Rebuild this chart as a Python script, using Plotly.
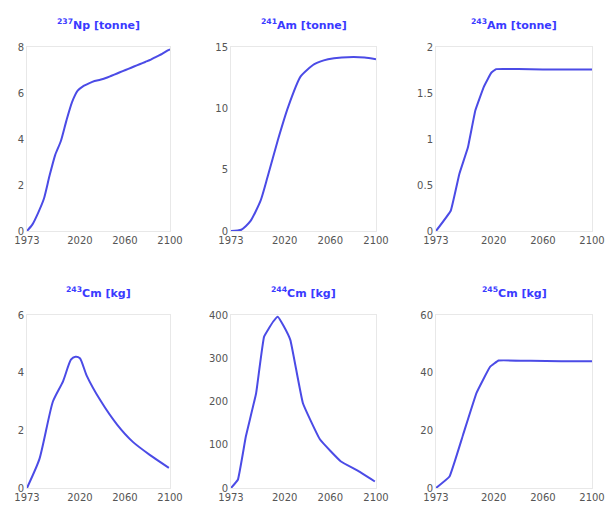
import plotly.graph_objects as go

# ---- data ----
np_years = [1973, 1978, 1983, 1988, 1993, 1998, 2003, 2008, 2013, 2018, 2023, 2028, 2033, 2038,
            2043, 2048, 2053, 2058, 2063, 2068, 2073, 2078, 2083, 2088, 2093, 2098, 2100]
np237 = [0, 0.3, 0.8, 1.4, 2.4, 3.3, 3.9, 4.8, 5.6, 6.1, 6.3, 6.42, 6.52, 6.58,
         6.65, 6.75, 6.85, 6.95, 7.05, 7.15, 7.25, 7.35, 7.45, 7.58, 7.7, 7.85, 7.9]

am241_years = [1973, 1982, 1990, 1999, 2005, 2014, 2023, 2034, 2046, 2058, 2070, 2090, 2100]
am241 = [0, 0.1, 0.8, 2.5, 4.4, 7.4, 10.1, 12.6, 13.6, 14.0, 14.15, 14.15, 14.0]

am243_years = [1973, 1985, 1992, 1999, 2005, 2012, 2018, 2022, 2040, 2060, 2080, 2100]
am243 = [0, 0.22, 0.62, 0.91, 1.31, 1.57, 1.72, 1.76, 1.76, 1.755, 1.755, 1.755]

cm243_years = [1973, 1984, 1996, 2005, 2012, 2016, 2020, 2026, 2038, 2053, 2067, 2082, 2099]
cm243 = [0, 1.0, 3.0, 3.7, 4.45, 4.55, 4.5, 3.9, 3.05, 2.2, 1.6, 1.15, 0.7]

cm244_years = [1973, 1979, 1986, 1995, 2002, 2010, 2014, 2019, 2025, 2036, 2051, 2069, 2084, 2099]
cm244 = [0, 19, 119, 219, 350, 385, 396, 375, 342, 196, 112, 62, 40, 15]

cm245_years = [1973, 1984, 1995, 2006, 2017, 2024, 2050, 2075, 2100]
cm245 = [0, 4, 18.4, 33, 42, 44.2, 44.1, 44, 44]

titles = ["<sup>237</sup>Np [tonne]", "<sup>241</sup>Am [tonne]", "<sup>243</sup>Am [tonne]",
          "<sup>243</sup>Cm [kg]", "<sup>244</sup>Cm [kg]", "<sup>245</sup>Cm [kg]"]
y_ranges = [[0, 8], [0, 15], [0, 2], [0, 6], [0, 400], [0, 60]]
y_ticks = [[0, 2, 4, 6, 8], [0, 5, 10, 15], [0, 0.5, 1, 1.5, 2],
           [0, 2, 4, 6], [0, 100, 200, 300, 400], [0, 20, 40, 60]]
y_ticktext = [["0", "2", "4", "6", "8"], ["0", "5", "10", "15"], ["0", "0.5", "1", "1.5", "2"],
              ["0", "2", "4", "6"], ["0", "100", "200", "300", "400"], ["0", "20", "40", "60"]]
x_ticks = [1973, 2020, 2060, 2100]
x_ticktext = ["1973", "2020", "2060", "2100"]

series = [(np_years, np237), (am241_years, am241), (am243_years, am243),
          (cm243_years, cm243), (cm244_years, cm244), (cm245_years, cm245)]
smooth = [0.6, 0.6, 0.25, 0.6, 0.3, 0.25]

# ---- layout geometry (pixels) ----
W, H = 607, 511
cols = [(27, 170), (231, 376), (436, 592)]
rows = [(47, 231), (315, 488)]

fig = go.Figure()
line_color = "#4b4be6"
title_color = "#3a3aff"

for i, (xs, ys) in enumerate(series):
    r, c = divmod(i, 3)
    k = i + 1
    xa = "x" if k == 1 else f"x{k}"
    ya = "y" if k == 1 else f"y{k}"
    fig.add_trace(go.Scatter(x=xs, y=ys, mode="lines", xaxis=xa, yaxis=ya,
                             line=dict(color=line_color, width=2, shape="spline",
                                       smoothing=smooth[i]),
                             showlegend=False, hoverinfo="skip"))
    x0, x1 = cols[c]
    y0, y1 = rows[r]
    xdom = [x0 / W, x1 / W]
    ydom = [1 - y1 / H, 1 - y0 / H]
    axis_common = dict(showgrid=False, zeroline=False, showline=True, mirror=True,
                       linecolor="#e8e8e8", linewidth=1, ticks="",
                       tickfont=dict(family="DejaVu Sans", size=10, color="#555555"),
                       automargin=False)
    fig.layout[f"xaxis{k if k > 1 else ''}"] = dict(
        domain=xdom, range=[1973, 2100], tickmode="array", tickvals=x_ticks,
        ticktext=x_ticktext, anchor=ya, **axis_common)
    fig.layout[f"yaxis{k if k > 1 else ''}"] = dict(
        domain=ydom, range=y_ranges[i], tickmode="array", tickvals=y_ticks[i],
        ticktext=y_ticktext[i], anchor=xa, **axis_common)
    fig.add_annotation(text=f"<b>{titles[i]}</b>", x=(x0 + x1) / 2 / W,
                       y=1 - (y0 - 23) / H, xref="paper", yref="paper",
                       showarrow=False, xanchor="center", yanchor="middle",
                       font=dict(family="DejaVu Sans", size=11, color=title_color))

fig.update_layout(width=W, height=H, margin=dict(l=0, r=0, t=0, b=0),
                  paper_bgcolor="white", plot_bgcolor="white")

fig.write_html("out.html")
